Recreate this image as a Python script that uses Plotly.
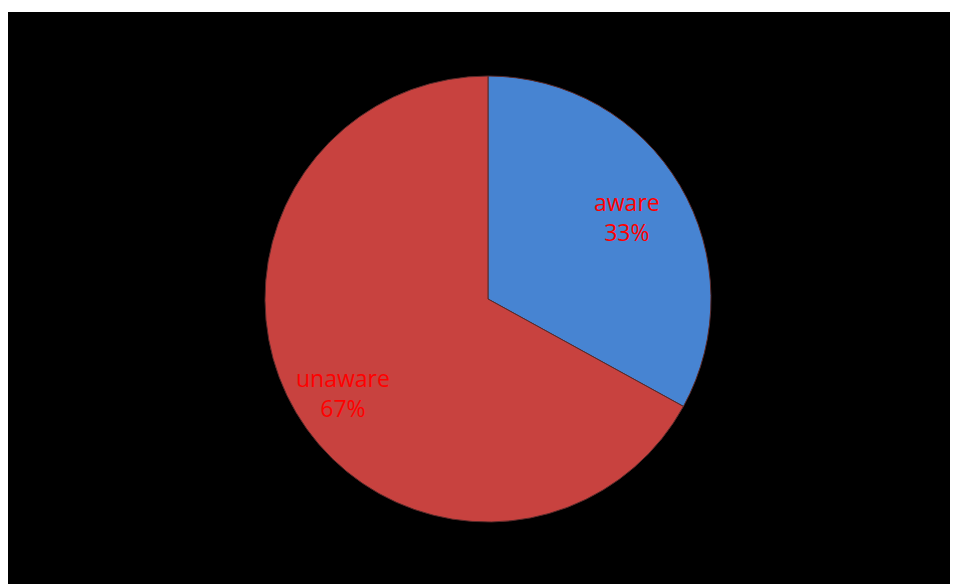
import plotly.graph_objects as go

labels = ["aware", "unaware"]
values = [33, 67]
colors = ["#4784d2", "#c8423f"]

# label anchor positions (paper coordinates)
label_pos = [(0.657, 0.642), (0.3556, 0.334)]

fig = go.Figure()
fig.add_trace(go.Pie(
    labels=labels,
    values=values,
    sort=False,
    direction="clockwise",
    rotation=0,
    marker=dict(colors=colors, line=dict(color="#5a2a2a", width=1)),
    textinfo="none",
    showlegend=False,
    hoverinfo="skip",
    domain=dict(x=[0.2728, 0.7463], y=[0.1084, 0.8881]),
))

total = sum(values)
annotations = []
for lab, val, (ax, ay) in zip(labels, values, label_pos):
    annotations.append(dict(
        x=ax, y=ay, xref="paper", yref="paper", showarrow=False,
        text=f"{lab}<br>{round(100 * val / total)}%",
        font=dict(color="#ff0000", size=23, family="Open Sans"),
        align="center",
    ))

fig.update_layout(
    width=957, height=584,
    margin=dict(l=8, r=7, t=12, b=0),
    paper_bgcolor="white",
    plot_bgcolor="black",
    annotations=annotations,
    shapes=[dict(type="rect", xref="paper", yref="paper", x0=0, x1=1, y0=0, y1=1,
                 fillcolor="black", line=dict(width=0), layer="below")],
)

fig.write_html("out.html")
